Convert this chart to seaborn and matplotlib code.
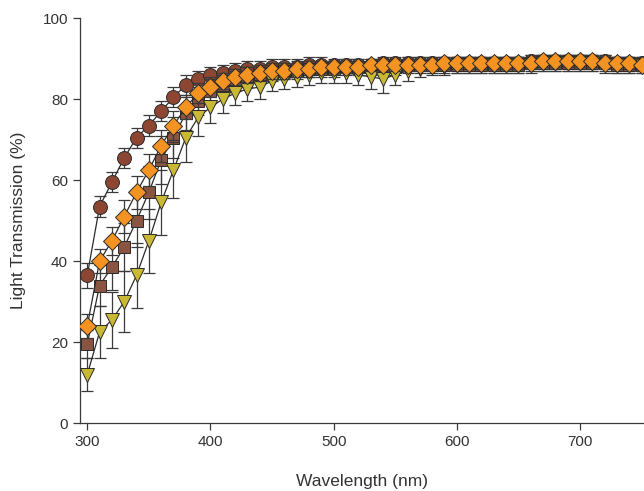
import numpy as np
import pandas as pd
import matplotlib
matplotlib.use("Agg")
import matplotlib.pyplot as plt
import seaborn as sns

# wavelength grid (nm)
wavelength = list(range(300, 760, 10))

# mean light transmission (%) for the four samples
trans_circle = [36.5, 53.5, 59.5, 65.5, 70.5, 73.5, 77, 80.5, 83.5, 85, 86, 86.5, 87, 87.5, 87.5, 88,
                88, 88, 88.5, 88.5, 88.5, 88.5, 88.5, 88.5, 89, 89, 89, 89, 89, 89, 89, 89, 89, 89, 89,
                89, 89.5, 89.5, 89.5, 89.5, 89.5, 89.5, 89.5, 89, 89, 89]
trans_diamond = [24, 40, 45, 51, 57, 62.5, 68.5, 73.5, 78, 81.5, 83, 84.5, 85.5, 86, 86.5, 87,
                 87, 87.5, 87.5, 88, 88, 88, 88, 88.5, 88.5, 88.5, 88.5, 88.5, 88.5, 89, 89, 89, 89, 89,
                 89, 89, 89, 89.5, 89.5, 89.5, 89.5, 89.5, 89, 89, 89, 88.5]
trans_square = [19.5, 34, 38.5, 43.5, 50, 57, 65, 70.5, 76.5, 79.5, 82, 83.5, 84.5, 85.5, 86, 86.5,
                87, 87, 87.5, 87.5, 87.5, 88, 88, 88, 88, 88, 88.5, 88.5, 88.5, 88.5, 88.5, 88.5, 88.5, 88.5,
                88.5, 88.5, 89, 89, 89, 89, 89, 89, 89, 88.5, 88.5, 88.5]
trans_triangle = [12, 22.5, 25.5, 30, 36.5, 45, 54.5, 62.5, 70.5, 75.5, 78, 80, 81.5, 82.5, 83, 84.5,
                  85, 85.5, 86, 86.5, 86.5, 86.5, 86, 85.5, 85, 86, 87, 87.5, 88, 88, 88.5, 88.5, 88.5, 88.5,
                  88.5, 88.5, 88.5, 89, 89, 89, 89, 89, 88.5, 88.5, 88.5, 88.5]

# standard deviations
err_circle = [3, 2.5, 2.5, 2.5, 2.5, 2.5, 2.5, 2.5, 2.5, 2, 2, 2, 2, 2, 2, 2,
              2, 2, 2, 2, 1.5, 1.5, 1.5, 1.5, 1.5, 1.5, 1.5, 1.5, 1.5, 1.5, 1.5, 1.5, 1.5, 1.5,
              1.5, 1.5, 1.5, 1.5, 1.5, 1.5, 1.5, 1.5, 1.5, 1.5, 1.5, 1.5]
err_diamond = [3, 3, 3.5, 4, 4, 4, 4, 3.5, 3, 2.5, 2.5, 2, 2, 2, 2, 2,
               2, 2, 2, 1.5, 1.5, 1.5, 1.5, 1.5, 1.5, 1.5, 1.5, 1.5, 1.5, 1.5, 1.5, 1.5, 1.5, 1.5,
               1.5, 1.5, 1.5, 1.5, 1.5, 1.5, 1.5, 1.5, 1.5, 1.5, 1.5, 1.5]
err_square = [3.5, 5, 5.5, 6, 6.5, 6.5, 6, 5, 4, 3.5, 3, 2.5, 2.5, 2.5, 2, 2,
              2, 2, 2, 2, 2, 2, 2, 2, 2, 2, 2, 2, 2, 2, 2, 2, 2, 2,
              2, 2, 2, 2, 2, 2, 2, 2, 2, 2, 2, 2]
err_triangle = [4, 6.5, 7, 7.5, 8, 8, 8, 7, 6, 4.5, 4, 3.5, 3, 3, 3, 2.5,
                2.5, 2.5, 2.5, 2.5, 2.5, 2.5, 2.5, 3, 3.5, 2.5, 2.5, 2, 2, 2, 2, 2, 2, 2,
                2, 2, 2, 2, 2, 2, 2, 2, 2, 2, 2, 2]

sns.set_theme(style="ticks")
plt.rcParams['font.family'] = ['Liberation Sans', 'DejaVu Sans']

fig = plt.figure(figsize=(6.44, 4.91), dpi=100)
ax = fig.add_axes([0.124, 0.138, 0.876, 0.825])

# draw order: circle at the back, diamond on top
series = [
    ("circle", trans_circle, err_circle, "o", "#8c4632", 10),
    ("square", trans_square, err_square, "s", "#8a5442", 9),
    ("triangle", trans_triangle, err_triangle, "v", "#c9b834", 10.5),
    ("diamond", trans_diamond, err_diamond, "D", "#f59322", 9),
]

for i, (name, vals, errs, mk, col, ms) in enumerate(series):
    df = pd.DataFrame({"wl": wavelength, "t": vals, "e": errs})
    ax.errorbar(df["wl"], df["t"], yerr=df["e"], fmt="none", ecolor="#3a3a3a",
                elinewidth=0.9, capsize=4.5, capthick=0.9, zorder=2 + i * 2)
    sns.lineplot(data=df, x="wl", y="t", ax=ax, color="#2a2a2a", lw=0.9,
                 marker=mk, markersize=ms, markerfacecolor=col,
                 markeredgecolor="#2a2a2a", markeredgewidth=0.7, zorder=3 + i * 2)

ax.set_xlim(294, 752)
ax.set_ylim(0, 100)
ax.set_xticks([300, 400, 500, 600, 700])
ax.set_yticks([0, 20, 40, 60, 80, 100])
sns.despine(ax=ax)
for s in ["left", "bottom"]:
    ax.spines[s].set_color("#3a3a3a")
    ax.spines[s].set_linewidth(0.9)
ax.tick_params(direction="out", length=5, width=0.9, color="#3a3a3a",
               labelsize=11, labelcolor="#333333")
ax.set_xlabel("Wavelength (nm)", fontsize=12.5, color="#333333", labelpad=18)
ax.set_ylabel("Light Transmission (%)", fontsize=12.5, color="#333333", labelpad=12)

fig.savefig("out.png", dpi=100)
